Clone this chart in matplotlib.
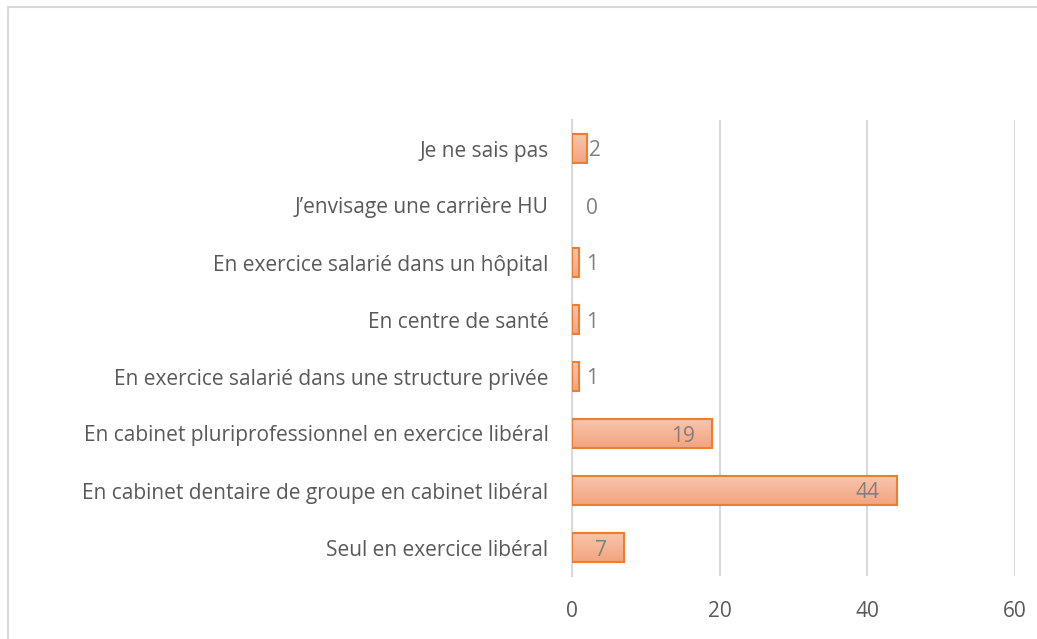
import numpy as np
import matplotlib
matplotlib.use('Agg')
import matplotlib.pyplot as plt
from matplotlib.colors import LinearSegmentedColormap
from matplotlib.lines import Line2D

categories = ['Seul en exercice libéral',
              'En cabinet dentaire de groupe en cabinet libéral',
              'En cabinet pluriprofessionnel en exercice libéral',
              'En exercice salarié dans une structure privée',
              'En centre de santé',
              'En exercice salarié dans un hôpital',
              'J\u2019envisage une carrière HU',
              'Je ne sais pas']
values = [7, 44, 19, 1, 1, 1, 0, 2]
xticks = [0, 20, 40, 60]

plt.rcParams['font.family'] = ['Open Sans', 'DejaVu Sans']
txt = '#595959'
grid = '#D9D9D9'

fig = plt.figure(figsize=(10.37, 6.39), dpi=100)
ax = fig.add_axes([572/1037, 1 - 576/639, 443/1037, 456/639])

y = np.arange(len(categories))
bars = ax.barh(y, values, height=0.5, color='none', edgecolor='#ED7D31',
               linewidth=1.5, zorder=3)

# vertical gradient fill like the Excel bars
cmap = LinearSegmentedColormap.from_list('g', ['#F8C5AC', '#F3A47F'])
grad = np.linspace(0, 1, 64).reshape(-1, 1)
for b in bars:
    if b.get_width() <= 0:
        b.set_linewidth(0)
        continue
    x0, y0 = b.get_x(), b.get_y()
    im = ax.imshow(grad, cmap=cmap, aspect='auto', origin='upper',
                   extent=[x0, x0 + b.get_width(), y0, y0 + b.get_height()],
                   zorder=2)
    im.set_clip_path(b)

for yi, v in zip(y, values):
    if v >= 5:
        ax.text(v - 2.3, yi, str(v), ha='right', va='center_baseline',
                fontsize=15, color='#7F7F7F', zorder=4)
    else:
        ax.text(max(v + 0.3, 1.9), yi, str(v), ha='left',
                va='center_baseline', fontsize=15, color='#7F7F7F', zorder=4)

ax.set_xlim(0, 60)
ax.set_ylim(-0.5, len(categories) - 0.5)
ax.set_xticks(xticks)
ax.set_yticks(y)
ax.set_yticklabels(categories)
ax.tick_params(axis='y', length=0, pad=17, labelsize=15, labelcolor=txt)
ax.tick_params(axis='x', length=0, pad=18, labelsize=15, labelcolor=txt)
ax.xaxis.grid(True, color=grid, linewidth=1.5, zorder=0)
ax.set_axisbelow(True)
for s in ['top', 'right', 'bottom']:
    ax.spines[s].set_visible(False)
ax.spines['left'].set_color(grid)
ax.spines['left'].set_linewidth(1.5)

# outer chart border (top and left edges visible)
fig.add_artist(Line2D([7.5/1037, 1.0], [1 - 6.5/639, 1 - 6.5/639],
                      transform=fig.transFigure, color=grid, linewidth=1.5))
fig.add_artist(Line2D([7.5/1037, 7.5/1037], [0.0, 1 - 6.5/639],
                      transform=fig.transFigure, color=grid, linewidth=1.5))

fig.savefig('out.png', dpi=100)
